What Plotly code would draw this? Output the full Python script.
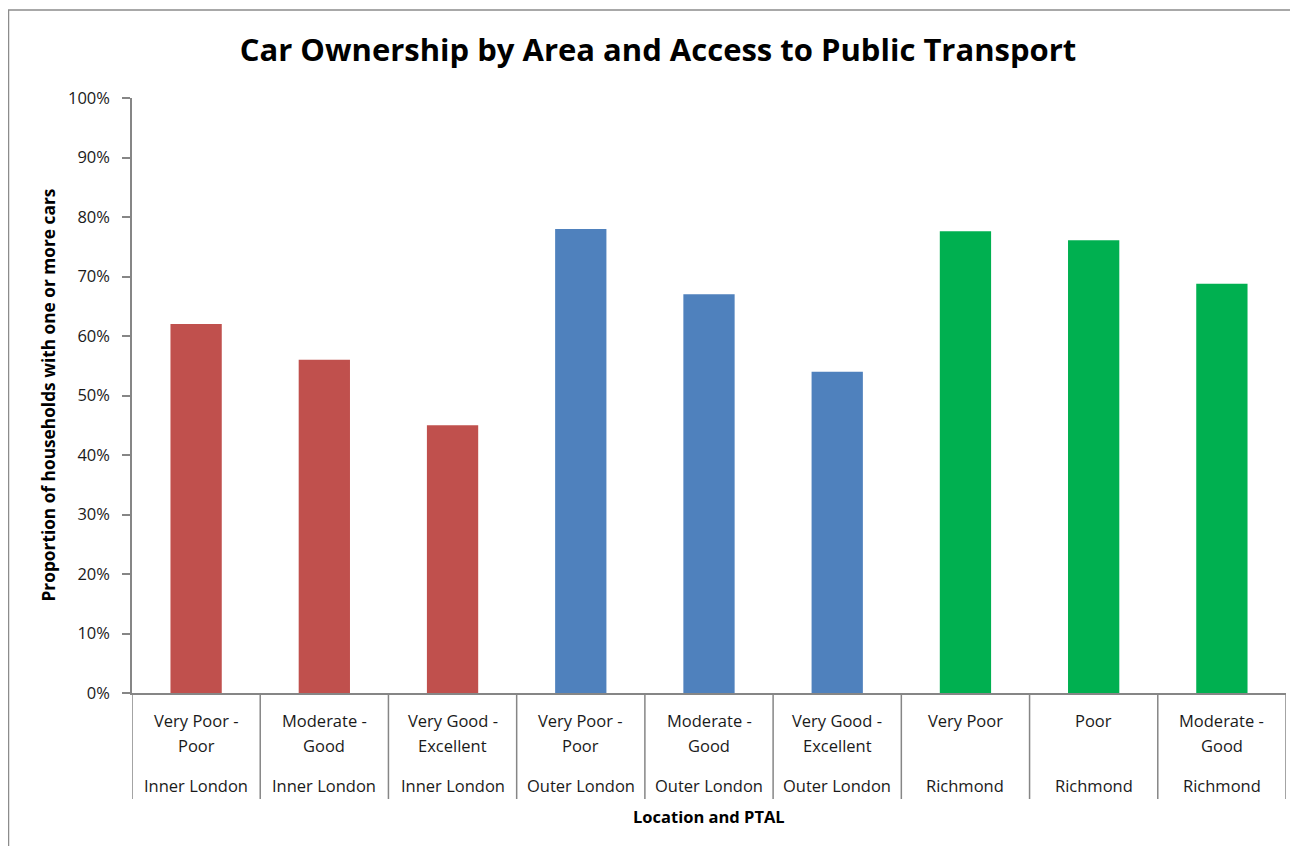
import plotly.graph_objects as go

# ---- data ----
areas = ["Inner London", "Inner London", "Inner London",
         "Outer London", "Outer London", "Outer London",
         "Richmond", "Richmond", "Richmond"]
ptal = ["Very Poor -<br>Poor", "Moderate -<br>Good", "Very Good -<br>Excellent",
        "Very Poor -<br>Poor", "Moderate -<br>Good", "Very Good -<br>Excellent",
        "Very Poor", "Poor", "Moderate -<br>Good"]
values = [0.62, 0.56, 0.45, 0.78, 0.67, 0.54, 0.776, 0.761, 0.688]
area_colors = {"Inner London": "#C0504D", "Outer London": "#4F81BD", "Richmond": "#00B050"}
y_ticks = [0, 0.1, 0.2, 0.3, 0.4, 0.5, 0.6, 0.7, 0.8, 0.9, 1.0]

FONT = "Open Sans"
OFF = 8  # page body margin
W, H = 1290, 838
ML, MT = 132 - OFF, 98 - OFF
MR = W + OFF - 1286
MB = H + OFF - 693
PH = H - MT - MB
PW = W - ML - MR

xs = list(range(len(values)))
fig = go.Figure()
fig.add_trace(go.Bar(
    x=xs, y=values,
    marker=dict(color=[area_colors[a] for a in areas], line=dict(width=0)),
    width=0.4,
    hoverinfo="skip",
))

annotations = []
shapes = []
# category labels
for i, (a, p) in enumerate(zip(areas, ptal)):
    for j, line in enumerate(p.split("<br>")):
        annotations.append(dict(
            x=i, y=0, xref="x", yref="paper", text=line, showarrow=False,
            yanchor="middle", yshift=-27 - 25 * j,
            font=dict(family=FONT, size=16.5, color="#1a1a1a")))
    annotations.append(dict(
        x=i, y=0, xref="x", yref="paper", text=a, showarrow=False,
        yanchor="middle", yshift=-92,
        font=dict(family=FONT, size=16.5, color="#1a1a1a")))

# separators between categories
for i in range(len(values) + 1):
    shapes.append(dict(type="line", xref="x", yref="paper",
                       x0=i - 0.5, x1=i - 0.5, y0=0, y1=-106 / PH,
                       line=dict(color="#868686", width=1.5)))

# outer chart border (left + top visible)
bx0 = (8 - OFF - ML) / PW + 0.5 / PW
by_top = (693 - 10) / PH
by_bot = (693 - 860) / PH
bx1 = (W + 20 - ML) / PW
shapes.append(dict(type="path", xref="paper", yref="paper",
                   path=f"M {bx0},{by_bot} L {bx0},{by_top} L {bx1},{by_top}",
                   line=dict(color="#8c8c8c", width=1.5)))

# axis titles
annotations.append(dict(
    x=0.5, y=0, xref="paper", yref="paper", text="<b>Location and PTAL</b>",
    showarrow=False, yanchor="middle", yshift=-123,
    font=dict(family=FONT, size=16.5, color="#000")))
annotations.append(dict(
    x=(48 - 132) / PW, y=0.5, xref="paper", yref="paper",
    text="<b>Proportion of households with one or more cars</b>",
    showarrow=False, textangle=-90, xanchor="center", yanchor="middle",
    font=dict(family=FONT, size=17.3, color="#000")))

fig.update_layout(
    width=W, height=H,
    margin=dict(l=ML, r=MR, t=MT, b=MB),
    paper_bgcolor="white", plot_bgcolor="white",
    showlegend=False,
    title=dict(text="<b>Car Ownership by Area and Access to Public Transport</b>",
               x=(658 - OFF) / W, xanchor="center", y=1 - (50 - OFF) / H, yanchor="middle",
               font=dict(family=FONT, size=31, color="#000")),
    xaxis=dict(range=[-0.5, len(values) - 0.5], showticklabels=False,
               showgrid=False, zeroline=False, showline=True,
               linecolor="#868686", linewidth=1.5, ticks=""),
    yaxis=dict(range=[0, 1], tickvals=y_ticks, tickformat=".0%",
               showgrid=False, zeroline=False, showline=True,
               linecolor="#868686", linewidth=1.5,
               ticks="outside", ticklen=8, tickcolor="#868686", tickwidth=1.5,
               ticklabelstandoff=9,
               tickfont=dict(family=FONT, size=16.5, color="#1a1a1a")),
    annotations=annotations,
    shapes=shapes,
)

fig.write_html("out.html")
